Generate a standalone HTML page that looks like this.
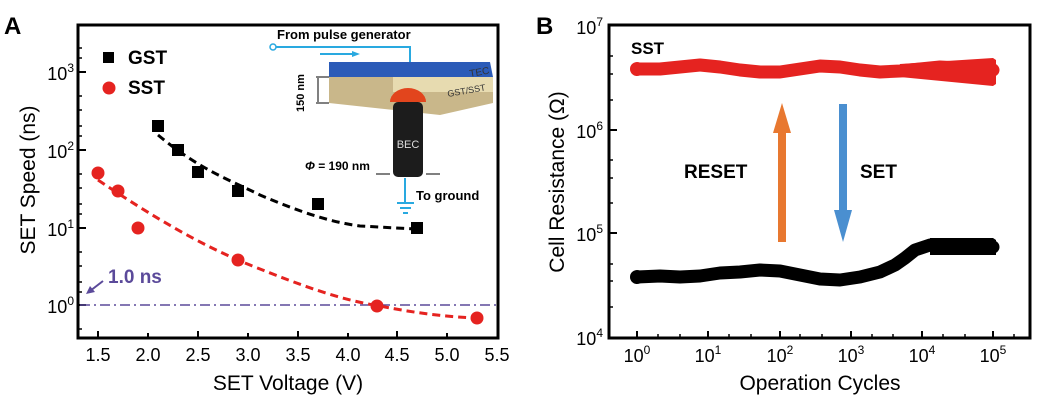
<!DOCTYPE html>
<html><head><meta charset="utf-8"><style>
body{margin:0;background:#fff}
svg{display:block;font-family:"Liberation Sans",sans-serif}
</style></head><body>
<svg width="1039" height="400" viewBox="0 0 1039 400">
<!-- Panel A -->
<text x="4" y="34" font-size="24" font-weight="bold">A</text>
<rect x="78" y="25" width="420" height="313" fill="none" stroke="#000" stroke-width="3"/>
<g stroke="#000" stroke-width="2">
<line x1="78" y1="72" x2="86" y2="72"/><line x1="78" y1="150" x2="86" y2="150"/><line x1="78" y1="228" x2="86" y2="228"/><line x1="78" y1="305" x2="86" y2="305"/>
<line x1="98" y1="338" x2="98" y2="331"/><line x1="148" y1="338" x2="148" y2="333"/><line x1="198" y1="338" x2="198" y2="331"/><line x1="248" y1="338" x2="248" y2="333"/><line x1="298" y1="338" x2="298" y2="331"/><line x1="348" y1="338" x2="348" y2="333"/><line x1="397" y1="338" x2="397" y2="331"/><line x1="447" y1="338" x2="447" y2="333"/>
</g>
<g stroke="#000" stroke-width="1.5">
<line x1="78" y1="48" x2="82" y2="48"/><line x1="78" y1="58" x2="82" y2="58"/><line x1="78" y1="96" x2="82" y2="96"/><line x1="78" y1="110" x2="82" y2="110"/><line x1="78" y1="126" x2="82" y2="126"/><line x1="78" y1="136" x2="82" y2="136"/><line x1="78" y1="174" x2="82" y2="174"/><line x1="78" y1="188" x2="82" y2="188"/><line x1="78" y1="204" x2="82" y2="204"/><line x1="78" y1="214" x2="82" y2="214"/><line x1="78" y1="252" x2="82" y2="252"/><line x1="78" y1="266" x2="82" y2="266"/><line x1="78" y1="282" x2="82" y2="282"/><line x1="78" y1="292" x2="82" y2="292"/><line x1="78" y1="329" x2="82" y2="329"/>
</g>
<g font-size="18" text-anchor="end">
<text x="74" y="80">10<tspan font-size="12" dy="-8">3</tspan></text>
<text x="74" y="158">10<tspan font-size="12" dy="-8">2</tspan></text>
<text x="74" y="236">10<tspan font-size="12" dy="-8">1</tspan></text>
<text x="74" y="313">10<tspan font-size="12" dy="-8">0</tspan></text>
</g>
<g font-size="18" text-anchor="middle">
<text x="98" y="361">1.5</text><text x="148" y="361">2.0</text><text x="198" y="361">2.5</text><text x="248" y="361">3.0</text><text x="298" y="361">3.5</text><text x="348" y="361">4.0</text><text x="397" y="361">4.5</text><text x="447" y="361">5.0</text><text x="497" y="361">5.5</text>
</g>
<text x="288" y="390" font-size="21" text-anchor="middle">SET Voltage (V)</text>
<text transform="translate(35,180) rotate(-90)" font-size="21" text-anchor="middle">SET Speed (ns)</text>
<line x1="80" y1="305" x2="497" y2="305" stroke="#5b4a9a" stroke-width="1.5" stroke-dasharray="10,4,2,4"/>
<text x="108" y="283" font-size="19" font-weight="bold" fill="#5b4a9a">1.0 ns</text>
<line x1="103" y1="281" x2="90" y2="291" stroke="#5b4a9a" stroke-width="2"/>
<polygon points="86,294 90,286 95,292" fill="#5b4a9a"/>
<path d="M158,135 C200,170 230,180 260,195 C300,212 330,222 360,226 L415,229" fill="none" stroke="#000" stroke-width="3" stroke-dasharray="8,5"/>
<path d="M98,180 C150,215 200,245 250,265 C300,285 340,300 380,306 C420,314 450,317 477,318" fill="none" stroke="#e52320" stroke-width="3" stroke-dasharray="8,5"/>
<g fill="#000">
<rect x="152" y="120" width="12" height="12"/><rect x="172" y="144" width="12" height="12"/><rect x="192" y="166" width="12" height="12"/><rect x="232" y="185" width="12" height="12"/><rect x="312" y="198" width="12" height="12"/><rect x="411" y="222" width="12" height="12"/>
<rect x="103" y="52" width="11" height="11"/>
</g>
<g fill="#e52320">
<circle cx="98" cy="173" r="6.5"/><circle cx="118" cy="191" r="6.5"/><circle cx="138" cy="228" r="6.5"/><circle cx="238" cy="260" r="6.5"/><circle cx="377" cy="306" r="6.5"/><circle cx="477" cy="318" r="6.5"/>
<circle cx="109" cy="88" r="6.5"/>
</g>
<text x="128" y="64" font-size="19" font-weight="bold">GST</text>
<text x="128" y="94" font-size="19" font-weight="bold">SST</text>
<!-- inset -->
<text x="277" y="39" font-size="13" font-weight="bold">From pulse generator</text>
<circle cx="273" cy="47" r="3" fill="none" stroke="#29a9e0" stroke-width="1.5"/>
<polyline points="276,47 410,47 410,62" fill="none" stroke="#29a9e0" stroke-width="2"/>
<line x1="320" y1="54" x2="355" y2="54" stroke="#29a9e0" stroke-width="2"/><polygon points="360,54 352,51 352,57" fill="#29a9e0"/>
<polygon points="329,62 490,62 493,77 329,77" fill="#2b5bb8"/>
<polygon points="329,77 493,77 493,103 440,115 329,103" fill="#c9b78a"/>
<polygon points="393,77 493,77 493,92 393,92" fill="#e7dbb0"/>
<text x="470" y="77" font-size="10" fill="#333" transform="rotate(-10,470,77)">TEC</text>
<text x="448" y="97" font-size="9" fill="#333" transform="rotate(-10,448,97)">GST/SST</text>
<path d="M390,102 A18,14 0 0 1 426,102 Z" fill="#e2451d"/>
<rect x="393" y="102" width="30" height="75" rx="5" fill="#1c1c1c"/>
<text x="408" y="148" font-size="11" fill="#ddd" text-anchor="middle">BEC</text>
<line x1="316" y1="77" x2="329" y2="77" stroke="#000"/><line x1="316" y1="103" x2="329" y2="103" stroke="#000"/><line x1="318" y1="78" x2="318" y2="102" stroke="#000"/>
<text transform="translate(304,112) rotate(-90)" font-size="11" font-weight="bold">150 nm</text>
<text x="305" y="170" font-size="12" font-weight="bold"><tspan font-style="italic">Φ</tspan> = 190 nm</text>
<line x1="376" y1="174" x2="390" y2="174" stroke="#000"/><line x1="426" y1="174" x2="440" y2="174" stroke="#000"/>
<line x1="405" y1="178" x2="405" y2="203" stroke="#29a9e0" stroke-width="2"/>
<line x1="397" y1="203" x2="414" y2="203" stroke="#29a9e0" stroke-width="2"/><line x1="400" y1="208" x2="411" y2="208" stroke="#29a9e0" stroke-width="2"/><line x1="403" y1="213" x2="408" y2="213" stroke="#29a9e0" stroke-width="2"/>
<text x="416" y="200" font-size="13" font-weight="bold">To ground</text>
<!-- Panel B -->
<text x="536" y="34" font-size="24" font-weight="bold">B</text>
<rect x="609" y="25" width="421" height="313" fill="none" stroke="#000" stroke-width="3"/>
<g font-size="18" text-anchor="end">
<text x="603" y="34">10<tspan font-size="12" dy="-8">7</tspan></text>
<text x="603" y="138">10<tspan font-size="12" dy="-8">6</tspan></text>
<text x="603" y="241">10<tspan font-size="12" dy="-8">5</tspan></text>
<text x="603" y="345">10<tspan font-size="12" dy="-8">4</tspan></text>
</g>
<g stroke="#000" stroke-width="2">
<line x1="609" y1="130" x2="617" y2="130"/><line x1="609" y1="233" x2="617" y2="233"/>
<line x1="637" y1="338" x2="637" y2="331"/><line x1="708" y1="338" x2="708" y2="331"/><line x1="780" y1="338" x2="780" y2="331"/><line x1="851" y1="338" x2="851" y2="331"/><line x1="922" y1="338" x2="922" y2="331"/><line x1="993" y1="338" x2="993" y2="331"/>
</g>
<g stroke="#000" stroke-width="1.5">
<line x1="609" y1="56" x2="613" y2="56"/><line x1="609" y1="74" x2="613" y2="74"/><line x1="609" y1="100" x2="613" y2="100"/><line x1="609" y1="160" x2="613" y2="160"/><line x1="609" y1="178" x2="613" y2="178"/><line x1="609" y1="203" x2="613" y2="203"/><line x1="609" y1="264" x2="613" y2="264"/><line x1="609" y1="281" x2="613" y2="281"/><line x1="609" y1="307" x2="613" y2="307"/>
<line x1="658" y1="338" x2="658" y2="334"/><line x1="680" y1="338" x2="680" y2="334"/><line x1="729" y1="338" x2="729" y2="334"/><line x1="751" y1="338" x2="751" y2="334"/><line x1="800" y1="338" x2="800" y2="334"/><line x1="822" y1="338" x2="822" y2="334"/><line x1="872" y1="338" x2="872" y2="334"/><line x1="893" y1="338" x2="893" y2="334"/><line x1="943" y1="338" x2="943" y2="334"/><line x1="965" y1="338" x2="965" y2="334"/><line x1="1014" y1="338" x2="1014" y2="334"/>
</g>
<g font-size="18" text-anchor="middle">
<text x="637" y="362">10<tspan font-size="12" dy="-8">0</tspan></text>
<text x="708" y="362">10<tspan font-size="12" dy="-8">1</tspan></text>
<text x="780" y="362">10<tspan font-size="12" dy="-8">2</tspan></text>
<text x="851" y="362">10<tspan font-size="12" dy="-8">3</tspan></text>
<text x="922" y="362">10<tspan font-size="12" dy="-8">4</tspan></text>
<text x="993" y="362">10<tspan font-size="12" dy="-8">5</tspan></text>
</g>
<text x="820" y="390" font-size="21" text-anchor="middle">Operation Cycles</text>
<text transform="translate(564,182) rotate(-90)" font-size="21" text-anchor="middle">Cell Resistance (Ω)</text>
<text x="631" y="54" font-size="17" font-weight="bold">SST</text>
<path d="M637,69 L660,69 L680,67 L700,65 L720,67 L740,70 L760,72 L780,72 L800,69 L820,66 L840,67 L860,70 L880,72 L900,71 L920,69 L940,67 L960,68 L993,70" fill="none" stroke="#e52320" stroke-width="13" stroke-linecap="round" stroke-linejoin="round"/>
<polygon points="900,64 993,58 996,60 996,84 993,86 900,77" fill="#e52320"/>
<circle cx="637" cy="69" r="7" fill="#e52320"/>
<path d="M637,277 L660,276 L680,277 L700,276 L720,273 L740,272 L760,270 L780,271 L800,275 L820,279 L840,280 L860,277 L880,272 L895,265 L905,258 L915,250 L930,245 L945,246 L993,247" fill="none" stroke="#000" stroke-width="13" stroke-linecap="round" stroke-linejoin="round"/>
<circle cx="637" cy="277" r="7"/>
<polygon points="930,238 993,238 996,240 996,255 930,255" fill="#000"/>
<rect x="778" y="130" width="8" height="112" fill="#e87830"/><polygon points="782,103 773,133 791,133" fill="#e87830"/>
<rect x="839" y="104" width="8" height="110" fill="#4a8fd0"/><polygon points="843,242 834,210 852,210" fill="#4a8fd0"/>
<text x="684" y="178" font-size="19" font-weight="bold">RESET</text>
<text x="860" y="178" font-size="19" font-weight="bold">SET</text>
</svg>
</body></html>
